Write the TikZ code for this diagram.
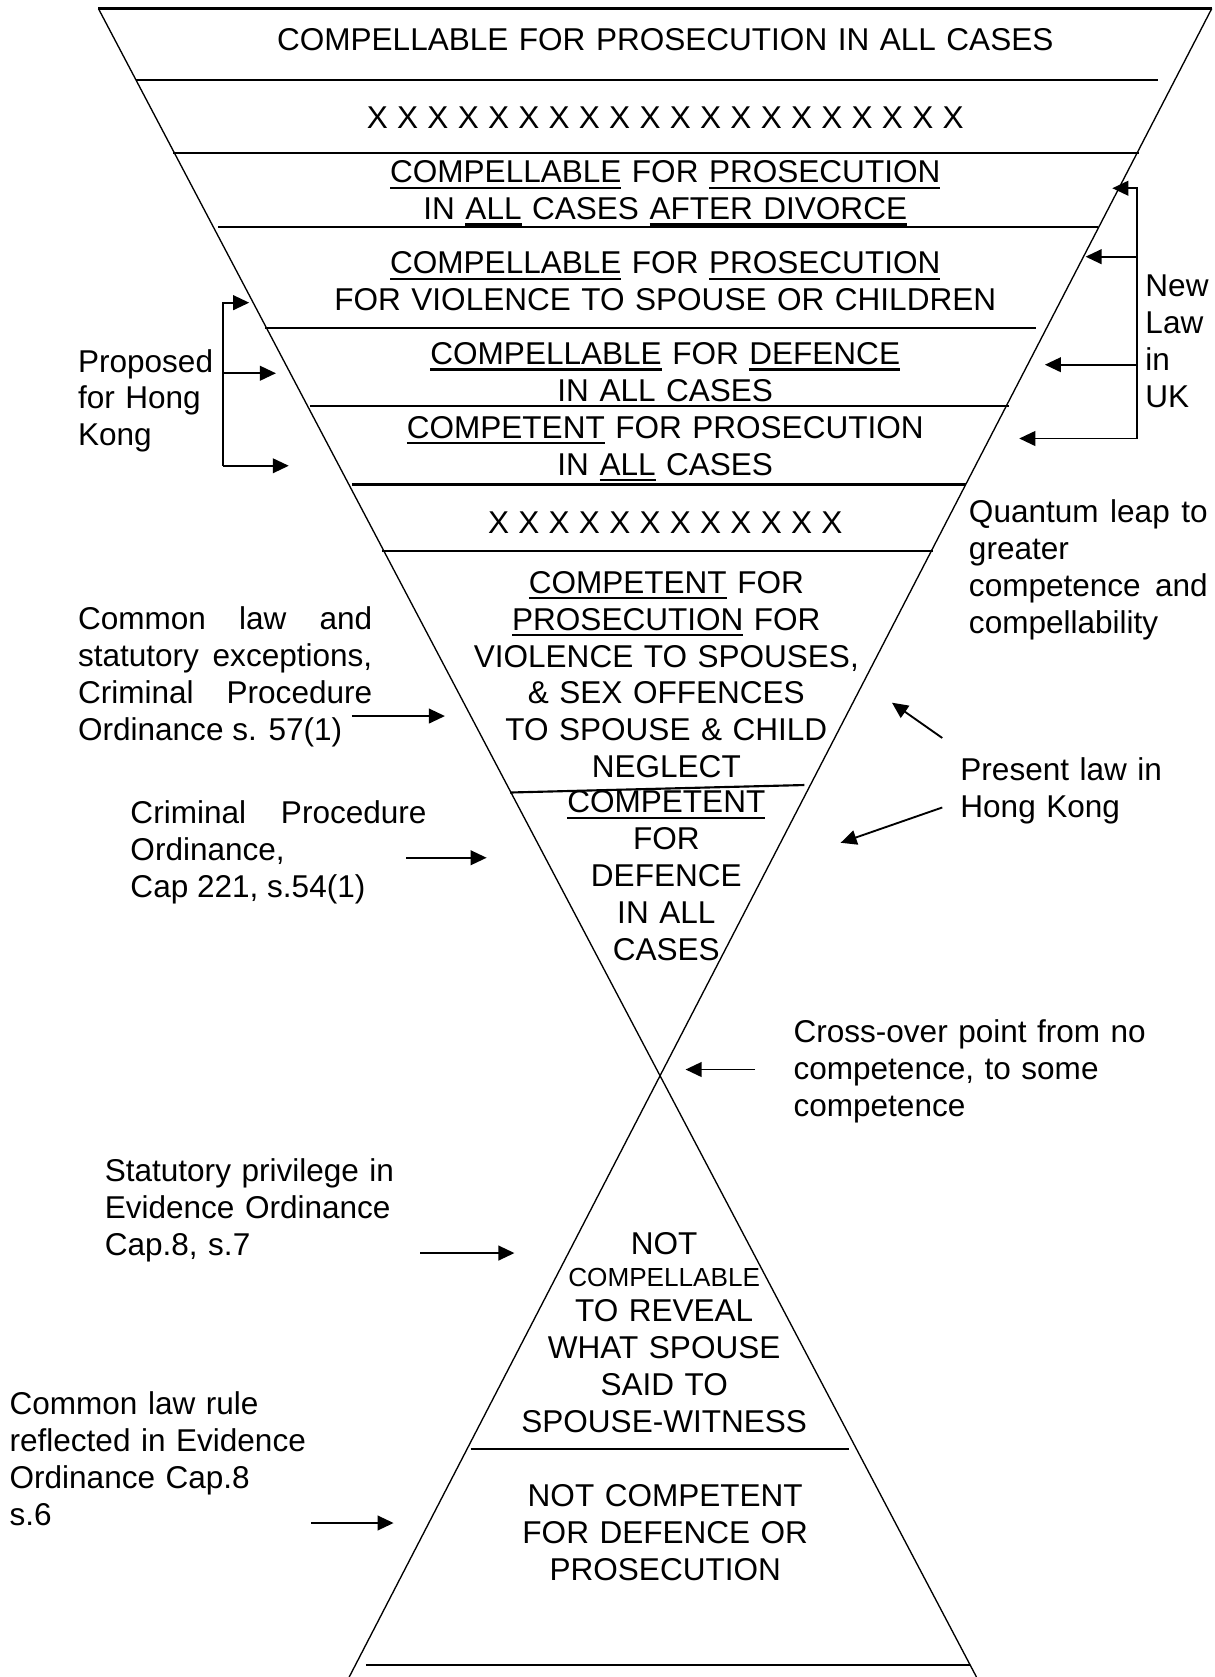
\documentclass[tikz,border=0pt]{standalone}
\usepackage{fontspec}
\setmainfont{Liberation Sans}
\usetikzlibrary{arrows.meta}
\hyphenpenalty=10000
\exhyphenpenalty=10000
\tolerance=10000
\newcommand\myul[1]{\leavevmode\setbox0\hbox{#1}\rlap{\rule[-4.4pt]{\wd0}{1.6pt}}\box0\relax}
\newcommand\smallcap{\fontsize{19.6}{27.6}\selectfont}
\newcommand\xten{X X X X X X X X X X}
\begin{document}
\begin{tikzpicture}[x=0.8021pt,y=-0.8021pt,
  every node/.style={inner sep=0pt, outer sep=0pt, font=\fontsize{23.65}{27.6}\selectfont},
  ctext/.style={anchor=base, text width=760pt, align=center},
  ltext/.style={anchor=base west, align=left},
  jtext/.style={anchor=base west, align=justify},
  divider/.style={line width=1.6pt},
  slant/.style={line width=1.0pt},
  arr/.style={line width=1.4pt, -{Triangle[length=12pt,width=11pt]}}]
\fill[white] (0,0) rectangle (1136,1568);
\useasboundingbox (0,0) rectangle (1136,1568);

% outer hourglass
\coordinate (TL) at (92,8);
\coordinate (TR) at (1133,8);
\coordinate (BR) at (913,1568);
\coordinate (BL) at (326.5,1568);
\draw[slant] (TL) -- (BR);
\draw[slant] (TR) -- (BL);
\draw[divider] (TL) -- (TR);

% dividers
\draw[divider] (127,75) -- (1083,75);
\draw[divider] (162,143) -- (1065,143);
\draw[divider] (204,212) -- (1027,212);
\draw[divider] (248,307) -- (969,307);
\draw[divider] (290,380) -- (943,380);
\draw[divider] (329,453) -- (903,453);
\draw[divider] (357,515) -- (872,515);
\draw[divider] (477,741) -- (752,734);
\draw[divider] (440,1355) -- (794,1355);
\draw[divider] (342,1557) -- (907,1557);

% central texts
\node[ctext] (t1) at (622,47.4) {COMPELLABLE FOR PROSECUTION IN ALL CASES};
\node[ctext] (t2) at (622,120) {\spaceskip=6.95pt\relax\xten{} \xten};
\node[ctext] (t3) at (622,171) {\myul{COMPELLABLE} FOR \myul{PROSECUTION}\\IN \myul{ALL} CASES \myul{AFTER DIVORCE}};
\node[ctext] (t4) at (622,256) {\myul{COMPELLABLE} FOR \myul{PROSECUTION}\\FOR VIOLENCE TO SPOUSE OR CHILDREN};
\node[ctext] (t5) at (622,341) {\myul{COMPELLABLE} FOR \myul{DEFENCE}\\IN \myul{ALL} CASES};
\node[ctext] (t6) at (622,410) {\myul{COMPETENT} FOR PROSECUTION\\IN \myul{ALL} CASES};
\node[ctext] (t7) at (622,499) {\spaceskip=6.95pt\relax\xten{} X X};
\node[ctext] (t8) at (623,555) {\myul{COMPETENT} FOR\\\myul{PROSECUTION} FOR\\VIOLENCE TO SPOUSES,\\\& SEX OFFENCES\\TO SPOUSE \& CHILD\\NEGLECT};
\node[ctext] (t9) at (623,760) {\myul{COMPETENT}\\FOR\\DEFENCE\\IN ALL\\CASES};
\node[ctext] (t10) at (621,1173) {NOT\\[-3.6pt]{\smallcap COMPELLABLE}\\[-1.1pt]TO REVEAL\\WHAT SPOUSE\\SAID TO\\SPOUSE-WITNESS};
\node[ctext] (t11) at (622,1409) {NOT COMPETENT\\FOR DEFENCE OR\\PROSECUTION};

% annotations
\node[ltext, text width=150pt] (prop) at (73,348) {Proposed\\for Hong\\Kong};
\node[ltext, text width=60pt] (uk) at (1071,277.5) {New\\Law\\in\\UK};
\node[jtext, text width=179pt] (quant) at (906,489) {Quantum leap to\linebreak greater\newline competence and\linebreak compellability};
\node[jtext, text width=220.6pt] (cl) at (73,589) {Common law and\linebreak statutory exceptions,\linebreak Criminal Procedure\linebreak Ordinance s. 57(1)};
\node[ltext, text width=200pt] (pres) at (898,730) {Present law in\\Hong Kong};
\node[jtext, text width=222pt] (cpo) at (122,770) {Criminal Procedure\linebreak Ordinance,\newline Cap 221, s.54(1)};
\node[ltext, text width=320pt] (cross) at (742,975) {Cross-over point from no\\competence, to some\\competence};
\node[ltext, text width=300pt] (stat) at (98,1105) {Statutory privilege in\\Evidence Ordinance\\Cap.8, s.7};
\node[ltext, text width=300pt] (clr) at (9,1323) {Common law rule\\reflected in Evidence\\Ordinance Cap.8\\s.6};

% Proposed bracket
\coordinate (pbT) at (208.5,283);
\coordinate (pbM) at (208.5,349);
\coordinate (pbB) at (208.5,435.5);
\coordinate (pT) at (233,283);
\coordinate (pM) at (258,349);
\coordinate (pB) at (270,435.5);
\draw[arr] (pbB) -- (pbT) -- (pT);
\draw[arr] (pbM) -- (pM);
\draw[arr] (pbB) -- (pB);

% New Law bracket
\coordinate (ubT) at (1063,176);
\coordinate (ub2) at (1063,240);
\coordinate (ub3) at (1063,341);
\coordinate (ubB) at (1063,410);
\coordinate (u1) at (1040,176);
\coordinate (u2) at (1015,240);
\coordinate (u3) at (977,341);
\coordinate (u4) at (953,410);
\draw[arr] (ubB) -- (ubT) -- (u1);
\draw[arr] (ub2) -- (u2);
\draw[arr] (ub3) -- (u3);
\draw[arr] (ubB) -- (u4);

% other arrows
\coordinate (clA) at (329,669.5);  \coordinate (clB) at (416,669.5);
\draw[arr] (clA) -- (clB);
\coordinate (cpA) at (380,802);    \coordinate (cpB) at (455,802);
\draw[arr] (cpA) -- (cpB);
\coordinate (prA) at (881,690);    \coordinate (prB) at (834,657);
\draw[arr] (prA) -- (prB);
\coordinate (prC) at (881,755);    \coordinate (prD) at (786,788);
\draw[arr] (prC) -- (prD);
\coordinate (crA) at (706,1000);   \coordinate (crB) at (641,1000);
\draw[arr] (crA) -- (crB);
\coordinate (stA) at (393,1171.6); \coordinate (stB) at (481,1171.6);
\draw[arr] (stA) -- (stB);
\coordinate (crlA) at (291,1424);  \coordinate (crlB) at (368,1424);
\draw[arr] (crlA) -- (crlB);
\end{tikzpicture}
\end{document}
